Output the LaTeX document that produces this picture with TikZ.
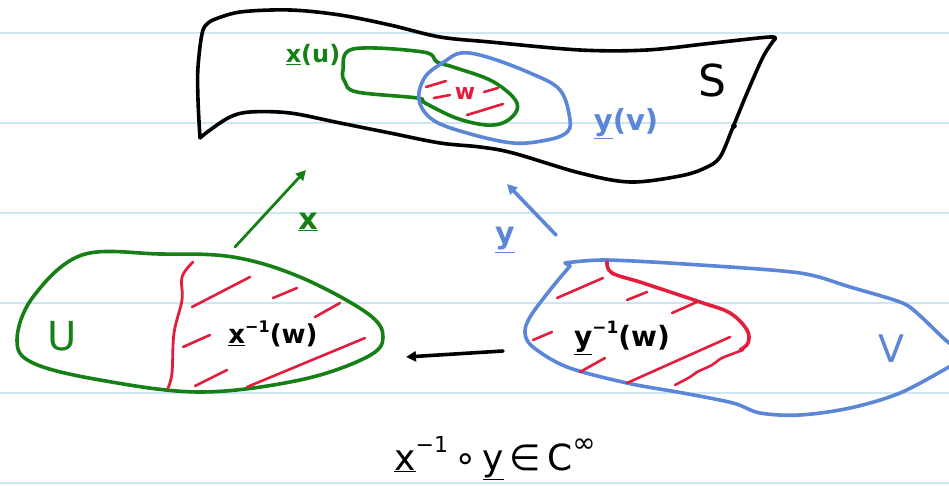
\documentclass[tikz,border=0pt]{standalone}
\usepackage{fontspec}
\setmainfont{DejaVu Sans}
\usetikzlibrary{arrows.meta}
\definecolor{pgreen}{RGB}{22,128,22}
\definecolor{pblue}{RGB}{92,134,216}
\definecolor{pred}{RGB}{226,30,60}
\definecolor{pline}{RGB}{205,230,240}
\newcommand{\sz}[1]{\fontsize{#1}{#1}\selectfont}
\newcommand{\ul}[1]{\underline{#1}}
\begin{document}
\begin{tikzpicture}[x=1pt,y=-1pt,
  ink/.style={line width=3.6pt,line cap=round,line join=round},
  thinink/.style={line width=2.8pt,line cap=round,line join=round},
  hatch/.style={pred,line width=2.6pt,line cap=round},
  lbl/.style={inner sep=0pt},
  tip/.style={-{Triangle[length=10pt,width=10pt]}}]
\useasboundingbox (0,0) rectangle (949,486);
\fill[white] (0,0) rectangle (949,486);
% notebook lines
\foreach \yy in {33,123,213,303,393,483}
  \draw[pline,line width=1.5pt] (0,\yy) -- (949,\yy);
% surface S
\draw[ink] plot[smooth, tension=0.55] coordinates {(200,138) (198,100) (198,67) (203,30) (213,20)}
  -- plot[smooth, tension=0.55] coordinates {(213,20) (240,12) (290,10) (340,15) (390,25) (440,37) (490,42) (580,50) (647,50) (713,43) (770,37) (774,40)}
  -- plot[smooth, tension=0.55] coordinates {(774,40) (763,57) (747,93) (733,127) (720,157) (705,168) (680,176) (630,182) (580,173) (513,153) (480,147) (440,143) (390,133) (340,123) (290,113) (250,112) (230,117) (210,130) (200,138)};
\fill (734,126) circle (2.8pt);
% x(U)
\draw[pgreen,ink] plot[smooth cycle, tension=0.6] coordinates {(343,70) (353,49) (423,52) (437,62) (453,67) (490,80) (513,97) (517,110) (505,122) (486,125) (456,118) (425,103) (417,98) (357,92) (345,82)};
% y(V)
\draw[pblue,ink] plot[smooth cycle, tension=0.6] coordinates {(461,53) (487,57) (530,73) (560,90) (570,120) (566,133) (547,140) (513,143) (467,133) (433,120) (419,100) (425,77) (444,62)};
% W hatches
\draw[hatch] (426,87) -- (446,81);
\draw[hatch] (434,98) -- (450,95);
\draw[hatch] (484,92) -- (498,88);
\draw[hatch] (467,115) -- (503,104);
\node[lbl,text=pred,font=\sz{22}\bfseries] (w) at (465,93) {w};
\node[lbl,text=pgreen,font=\sz{24}\bfseries] (xu) at (313,55) {\ul{x}(u)};
\node[lbl,text=pblue,font=\sz{29}\bfseries] (yv) at (626,124) {\ul{y}(v)};
\node[lbl,font=\sz{44}] (S) at (712,80) {S};
% U region
\draw[pgreen,ink] plot[smooth cycle, tension=0.6] coordinates {(82,255) (160,254) (233,257) (300,277) (367,313) (383,337) (367,357) (300,380) (200,392) (100,380) (33,363) (17,340) (33,297)};
\draw[pred,thinink] plot[smooth, tension=0.6] coordinates {(193,262) (182,277) (182,300) (174,333) (172,373) (168,388)};
\draw[hatch] (192,307) -- (250,277);
\draw[hatch] (273,298) -- (297,288);
\draw[hatch] (315,317) -- (340,303);
\draw[hatch] (247,387) -- (365,338);
\draw[hatch] (195,386) -- (227,370);
\draw[hatch] (183,347) -- (210,335);
\node[lbl,text=pgreen,font=\sz{40}] (U) at (62,336) {U};
\node[lbl,font=\sz{26}\bfseries] (xinv) at (273,334) {\ul{x}\raisebox{0.45em}{\sz{16}−1}(w)};
% V region
\draw[pblue,ink] plot[smooth, tension=0.5] coordinates {(965,350) (949,343) (917,313) (900,302) (850,287) (800,273) (700,265) (607,260) (565,263)}
  -- plot[smooth, tension=0.55] coordinates {(570,266) (550,290) (530,317) (525,333) (533,347) (567,367) (627,383) (683,393) (733,403) (760,413) (800,415) (850,408) (900,393) (949,367) (965,358)};
\draw[pred,ink] plot[smooth, tension=0.6] coordinates {(607,262) (612,273) (643,283) (700,302) (730,313) (747,330) (748,343) (740,350)};
\draw[hatch] (557,298) -- (603,278);
\draw[hatch] (627,300) -- (647,292);
\draw[hatch] (672,313) -- (697,302);
\draw[hatch] (533,340) -- (552,332);
\draw[hatch] (580,372) -- (605,358);
\draw[hatch] (627,383) -- (730,337);
\draw[hatch] plot[smooth, tension=0.5] coordinates {(675,385) (690,377) (697,372) (712,365) (722,358) (743,350)};
\node[lbl,font=\sz{28}\bfseries] (yinv) at (622,338) {\ul{y}\raisebox{0.45em}{\sz{17}−1}(w)};
\node[lbl,text=pblue,font=\sz{38}] (V) at (891,349) {V};
% maps
\coordinate (xa) at (235,247);
\coordinate (xb) at (306,170);
\draw[pgreen,thinink,tip] (xa) -- (xb);
\node[lbl,text=pgreen,font=\sz{30}\bfseries] (xl) at (308,222) {\ul{x}};
\coordinate (ya) at (556,235);
\coordinate (yb) at (507,184);
\draw[pblue,ink,tip] (ya) -- (yb);
\node[lbl,text=pblue,font=\sz{30}\bfseries] (yl) at (505,240) {\ul{y}};
\coordinate (ta) at (503,351);
\coordinate (tb) at (406,357);
\draw[ink,tip] (ta) -- (tb);
% formula
\node[lbl,font=\sz{36}] (f) at (495,458) {\ul{x}\raisebox{0.5em}{\sz{22}−1}\,∘\,\ul{y}\,∈\,C\raisebox{0.5em}{\sz{28}∞}};
\end{tikzpicture}
\end{document}
